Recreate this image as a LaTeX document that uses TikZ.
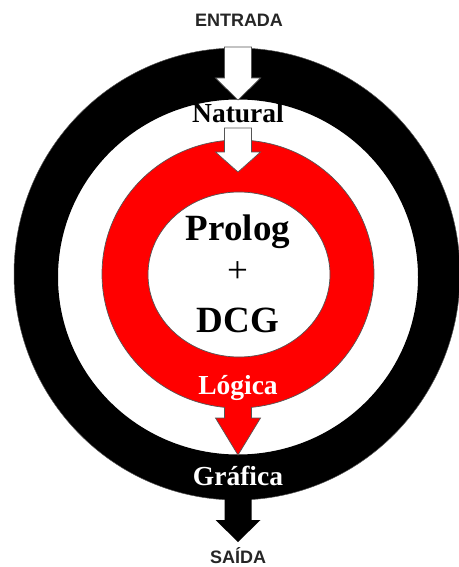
\documentclass[tikz,border=0pt]{standalone}
\usepackage{fontspec}
\setmainfont{Liberation Serif}
\setsansfont{Liberation Sans}
\usepackage{xcolor}
\definecolor{RingRed}{HTML}{FF0000}
\definecolor{EdgeGray}{HTML}{555555}
\usetikzlibrary{positioning}
\tikzset{
  lbl/.style={font=\bfseries, inner sep=0pt, anchor=base},
  ioLbl/.style={lbl, font=\sffamily\bfseries\fontsize{18}{20}\selectfont, text=black!85},
  ringLbl/.style={lbl, font=\bfseries\fontsize{27.5}{30}\selectfont},
  coreLbl/.style={lbl, font=\bfseries\fontsize{37}{40}\selectfont},
  edge/.style={draw=EdgeGray, line width=0.7pt, line join=miter},
}
% block arrow: #1 style, #2 top, #3 head start, #4 tip
\newcommand{\blockArrow}[4]{%
  \path[#1] (224.5,#2) -- (224.5,#3) -- (215.5,#3) -- (238,#4)
    -- (260.5,#3) -- (251.5,#3) -- (251.5,#2) -- cycle;}

\begin{document}
\begin{tikzpicture}[x=1pt, y=-1pt]
\useasboundingbox[fill=white] (0,0) rectangle (458,567);

% outer ring
\fill[black, even odd rule] (237,274) ellipse [x radius=223pt, y radius=226pt]
  (238,277) ellipse [x radius=180pt, y radius=177.5pt];
\draw[EdgeGray, line width=0.5pt] (237,274) ellipse [x radius=223pt, y radius=226pt];

% inner ring
\path[fill=RingRed, edge, even odd rule] (238,274) ellipse [x radius=136pt, y radius=134pt]
  (239,274.5) ellipse [x radius=91pt, y radius=82.5pt];

% arrows
\blockArrow{fill=white, edge}{47}{78}{100}
\blockArrow{fill=white, edge}{128}{152}{172}
\blockArrow{fill=RingRed}{400}{418}{455}
\draw[edge] (224.5,407) -- (224.5,418) -- (215.5,418) -- (238,455)
  -- (260.5,418) -- (251.5,418) -- (251.5,407);
\blockArrow{fill=black}{490}{520}{542}

% labels
\node[ioLbl] (entrada) at (239,27) {ENTRADA};
\node[ringLbl] (natural) at (238,123) {Natural};
\node[coreLbl] (prolog) at (238,240) {Prolog};
\node[coreLbl, font=\fontsize{37}{40}\selectfont, anchor=center] (plus) at (237.5,272.5) {+};
\node[coreLbl] (dcg) at (238,332) {DCG};
\node[ringLbl, text=white] (logica) at (238,394) {Lógica};
\node[ringLbl, text=white] (grafica) at (238,485) {Gráfica};
\node[ioLbl] (saida) at (238,563) {SAÍDA};

\end{tikzpicture}
\end{document}
